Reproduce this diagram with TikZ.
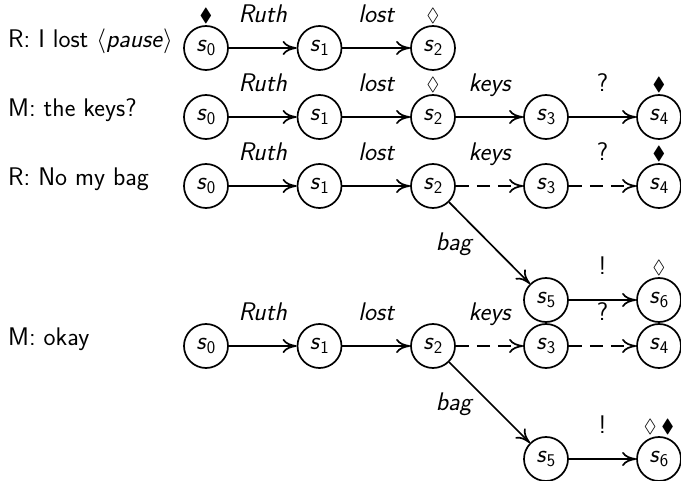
\documentclass[tikz,border=0pt]{standalone}
\usepackage{amsmath,amssymb}
\usepackage{fontspec}
\usetikzlibrary{arrows.meta}
\newcommand{\bfnt}{\sffamily\fontsize{25.5}{30}\selectfont}
\newcommand{\st}[1]{\textit{s}\ensuremath{_{\textup{#1}}}}
\tikzset{
 stnode/.style={draw, circle, line width=1.7pt, minimum size=44pt, inner sep=0pt, font=\bfnt},
 tr/.style={line width=1.7pt, -{To[length=14pt,width=14pt]}},
 dtr/.style={tr, dash pattern=on 13pt off 8pt},
 lab/.style={anchor=base, yshift=25pt, inner sep=0pt, font=\bfnt\itshape},
 plab/.style={lab, font=\bfnt},
 blab/.style={anchor=base east, inner sep=0pt, xshift=-17pt, yshift=-8pt, font=\bfnt\itshape},
 dia/.style={font=\fontsize{19}{19}\selectfont, inner sep=1pt, label distance=0pt},
 utt/.style={anchor=base west, inner sep=0pt, font=\bfnt},
}
\begin{document}
\begin{tikzpicture}[x=1pt,y=-1pt]
\useasboundingbox (0,0) rectangle (681,481);
% row 1
\node[utt] (u1) at (8,48) {R: I lost $\langle$\textit{pause}$\rangle$};
\node[stnode, label={[dia]above:$\blacklozenge$}] (a0) at (206,48) {\st0};
\node[stnode] (a1) at (319.5,48) {\st1};
\node[stnode, label={[dia]above:$\lozenge$}] (a2) at (433,48) {\st2};
\draw[tr] (a0) -- node[lab]{Ruth} (a1);
\draw[tr] (a1) -- node[lab]{lost} (a2);
% row 2
\node[utt] (u2) at (8,117) {M: the keys?};
\node[stnode] (b0) at (206,117) {\st0};
\node[stnode] (b1) at (319.5,117) {\st1};
\node[stnode, label={[dia]above:$\lozenge$}] (b2) at (433,117) {\st2};
\node[stnode] (b3) at (546,117) {\st3};
\node[stnode, label={[dia]above:$\blacklozenge$}] (b4) at (659,117) {\st4};
\draw[tr] (b0) -- node[lab]{Ruth} (b1);
\draw[tr] (b1) -- node[lab]{lost} (b2);
\draw[tr] (b2) -- node[lab]{keys} (b3);
\draw[tr] (b3) -- node[plab]{?} (b4);
% row 3
\node[utt] (u3) at (8,186) {R: No my bag};
\node[stnode] (c0) at (206,186) {\st0};
\node[stnode] (c1) at (319.5,186) {\st1};
\node[stnode] (c2) at (433,186) {\st2};
\node[stnode] (c3) at (546,186) {\st3};
\node[stnode, label={[dia]above:$\blacklozenge$}] (c4) at (659,186) {\st4};
\node[stnode] (c5) at (546,300) {\st5};
\node[stnode, label={[dia]above:$\lozenge$}] (c6) at (659,300) {\st6};
\draw[tr] (c0) -- node[lab]{Ruth} (c1);
\draw[tr] (c1) -- node[lab]{lost} (c2);
\draw[dtr] (c2) -- node[lab]{keys} (c3);
\draw[dtr] (c3) -- node[plab]{?} (c4);
\draw[tr] (c2) -- node[blab]{bag} (c5);
\draw[tr] (c5) -- node[plab]{!} (c6);
% row 4
\node[utt] (u4) at (8,346) {M: okay};
\node[stnode] (d0) at (206,346) {\st0};
\node[stnode] (d1) at (319.5,346) {\st1};
\node[stnode] (d2) at (433,346) {\st2};
\node[stnode] (d3) at (546,346) {\st3};
\node[stnode] (d4) at (659,346) {\st4};
\node[stnode] (d5) at (546,459) {\st5};
\node[stnode, label={[dia]above:$\lozenge\hspace{5pt}\blacklozenge$}] (d6) at (659,459) {\st6};
\draw[tr] (d0) -- node[lab]{Ruth} (d1);
\draw[tr] (d1) -- node[lab]{lost} (d2);
\draw[dtr] (d2) -- node[lab]{keys} (d3);
\draw[dtr] (d3) -- node[plab]{?} (d4);
\draw[tr] (d2) -- node[blab]{bag} (d5);
\draw[tr] (d5) -- node[plab]{!} (d6);
\end{tikzpicture}
\end{document}
